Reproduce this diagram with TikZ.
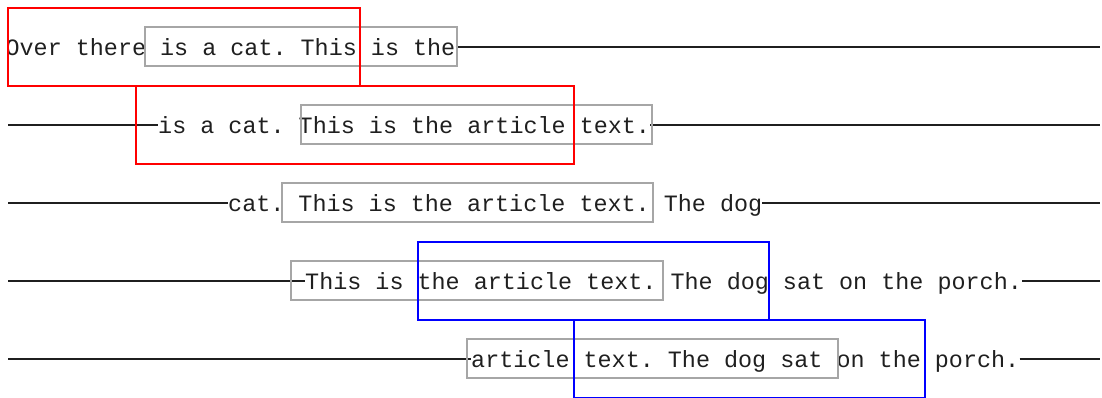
\documentclass[tikz,border=0pt]{standalone}
\usepackage{fontspec}
\setmonofont{Liberation Mono}
\begin{document}
\begin{tikzpicture}[x=1pt,y=-1pt,
  txt/.style={inner sep=0pt, anchor=base west,
    font=\ttfamily\fontsize{23.42}{28}\selectfont, text=black!88},
  rule/.style={draw=black!88, line width=2pt},
  span/.style={draw=black!35, line width=2pt},
  redbox/.style={draw=red, line width=2pt},
  bluebox/.style={draw=blue, line width=2pt}]
\useasboundingbox (0,0) rectangle (1102,398);

% row centre lines and their free ends
\foreach \i/\y in {1/47,2/125,3/203,4/281,5/359}{
  \coordinate (a\i) at (8,\y);
  \coordinate (b\i) at (1100,\y);
}

% the five text windows
\begin{scope}
\clip (8,0) rectangle (1100,398);
\node[txt] (t1) at (5.4,55.8)   {Over there is a cat. This is the};
\node[txt] (t2) at (158,133.8)  {is a cat. This is the article text.};
\node[txt] (t3) at (228,211.8)  {cat. This is the article text. The dog};
\node[txt] (t4) at (305,289.8)  {This is the article text. The dog sat on the porch.};
\node[txt] (t5) at (471,367.8)  {article text. The dog sat on the porch.};
\end{scope}

% connectors from the ends of each window
\draw[rule] (t1.east |- b1) -- (b1);
\draw[rule] (a2) -- (a2 -| t2.west);
\draw[rule] (t2.east |- b2) -- (b2);
\draw[rule] (a3) -- (a3 -| t3.west);
\draw[rule] (t3.east |- b3) -- (b3);
\draw[rule] (a4) -- (a4 -| t4.west);
\draw[rule] (t4.east |- b4) -- (b4);
\draw[rule] (a5) -- (a5 -| t5.west);
\draw[rule] (t5.east |- b5) -- (b5);

% grey spans
\draw[span] (145,27) rectangle (457,66);
\draw[span] (301,105) rectangle (652,144);
\draw[span] (282,183) rectangle (653,222);
\draw[span] (291,261) rectangle (663,300);
\draw[span] (467,339) rectangle (838,378);

% red and blue frames
\draw[redbox] (8,8) rectangle (360,86);
\draw[redbox] (136,86) rectangle (574,164);
\draw[bluebox] (418,242) rectangle (769,320);
\draw[bluebox] (574,320) rectangle (925,398);
\end{tikzpicture}
\end{document}
